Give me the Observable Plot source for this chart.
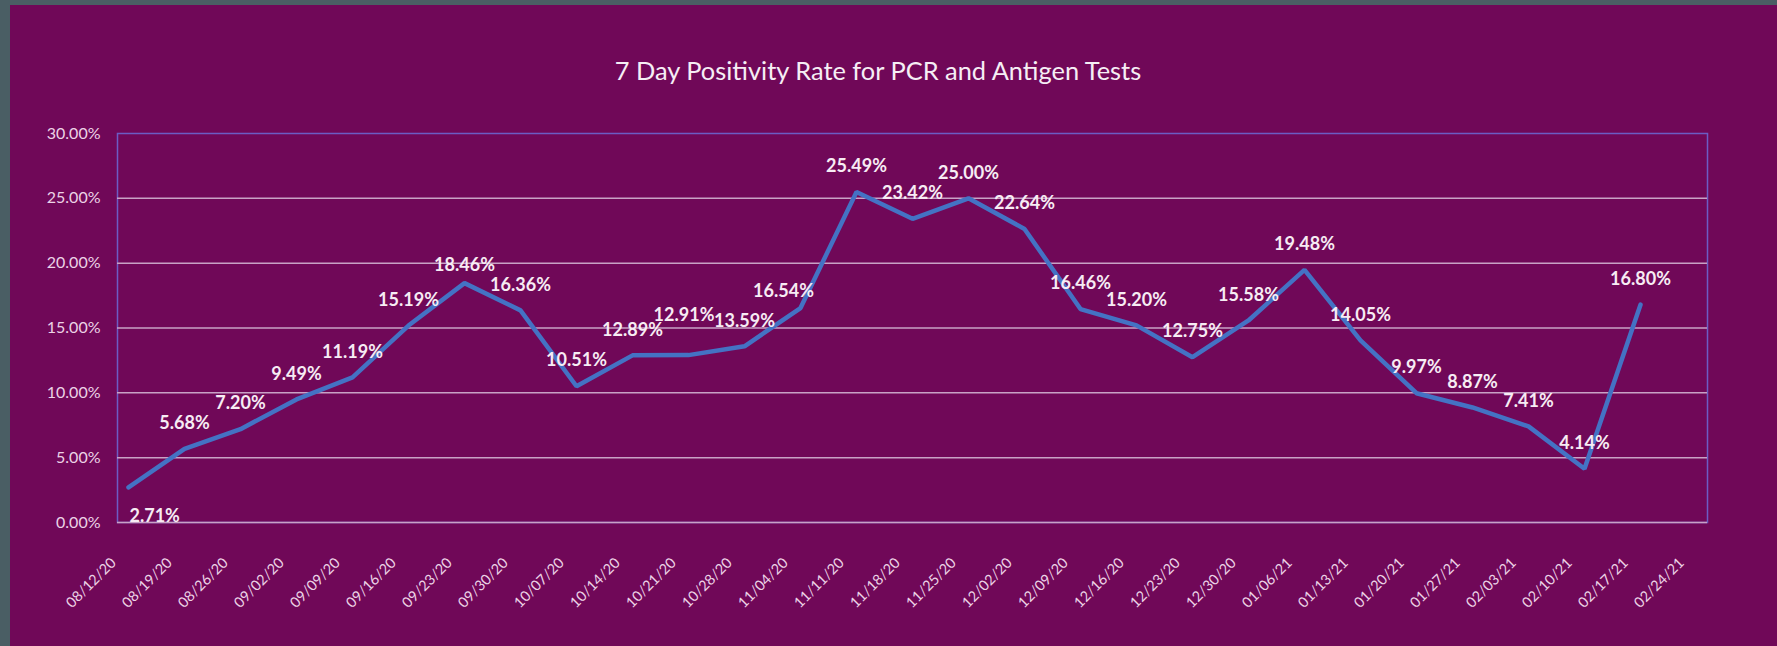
<!DOCTYPE html>
<html><head><meta charset="utf-8">
<script src="https://cdn.jsdelivr.net/npm/d3@7"></script>
<script src="https://cdn.jsdelivr.net/npm/@observablehq/plot@0.6"></script>
<style>
html,body{margin:0;padding:0;background:#4a5e64;width:1777px;height:646px;overflow:hidden;}
#card{position:absolute;left:10px;top:5px;width:1767px;height:641px;background:#700858;}
#title{position:absolute;left:0;width:1736px;top:50px;text-align:center;font-family:Lato,"Open Sans",sans-serif;font-size:25.4px;line-height:1.2;color:#f6eef5;}
#chart{position:absolute;left:0;top:0;}
</style></head>
<body><div id="card"><div id="title">7 Day Positivity Rate for PCR and Antigen Tests</div><div id="chart"></div></div>
<script>
const dates = ["08/12/20","08/19/20","08/26/20","09/02/20","09/09/20","09/16/20","09/23/20","09/30/20","10/07/20","10/14/20","10/21/20","10/28/20","11/04/20","11/11/20","11/18/20","11/25/20","12/02/20","12/09/20","12/16/20","12/23/20","12/30/20","01/06/21","01/13/21","01/20/21","01/27/21","02/03/21","02/10/21","02/17/21","02/24/21"];
const rates = [2.71,5.68,7.20,9.49,11.19,15.19,18.46,16.36,10.51,12.89,12.91,13.59,16.54,25.49,23.42,25.00,22.64,16.46,15.20,12.75,15.58,19.48,14.05,9.97,8.87,7.41,4.14,16.80,null];
const yTicks = [0,5,10,15,20,25,30];

const data = dates.map((d,i)=>({date:d, rate:rates[i]})).filter(d=>d.rate!=null);
const fmt = v => v.toFixed(2) + "%";

// label placement tweaks (layout, not data)
const labelNudges = {
  "08/12/20": {dx: 1, dy: 29, textAnchor: "start"},
  "09/23/20": {dx: 0, dy: -18},
  "10/21/20": {dx: -4.5, dy: -40},
  "11/04/20": {dx: -17, dy: -17}
};
const labelStyle = {x:"date", y:"rate", text: d=>fmt(d.rate), lineAnchor:"middle", fontWeight:"bold", fontSize:18, fill:"#f7ecf4"};

const nudgeMarks = Object.entries(labelNudges).map(([k,o]) =>
  Plot.text(data.filter(d=>d.date===k), {...labelStyle, dx:o.dx, dy:o.dy, textAnchor:o.textAnchor || "middle"}));

const chart = Plot.plot({
  width:1767, height:641,
  marginLeft:107, marginRight:70, marginTop:128, marginBottom:124,
  style:{background:"transparent", fontFamily:"Lato, 'Open Sans', sans-serif", overflow:"visible"},
  x:{type:"point", domain:dates, padding:0, axis:null},
  y:{domain:[0,30], axis:null},
  marks:[
    Plot.frame({stroke:"#6b5cc4", strokeWidth:1.5}),
    Plot.gridY({ticks: yTicks.filter(t=>t<30), stroke:"#c9a2c6", strokeOpacity:1, strokeWidth:1.5}),
    Plot.axisY({ticks: yTicks, label:null, tickSize:0, tickPadding:17, tickFormat: fmt, color:"#ecd3e6", fontSize:16}),
    Plot.text(dates, {x:d=>d, text:d=>d, frameAnchor:"bottom", rotate:-45, textAnchor:"end", lineAnchor:"middle", dx:-14.8, dy:37.9, fill:"#ecd3e6", fontSize:14.5}),
    Plot.line(data, {x:"date", y:"rate", stroke:"#4472C4", strokeWidth:4.5, strokeLinejoin:"miter"}),
    Plot.text(data.filter(d=>!(d.date in labelNudges)), {...labelStyle, dy:-25.5}),
    ...nudgeMarks
  ]
});
document.getElementById("chart").appendChild(chart);
</script>
</body></html>
